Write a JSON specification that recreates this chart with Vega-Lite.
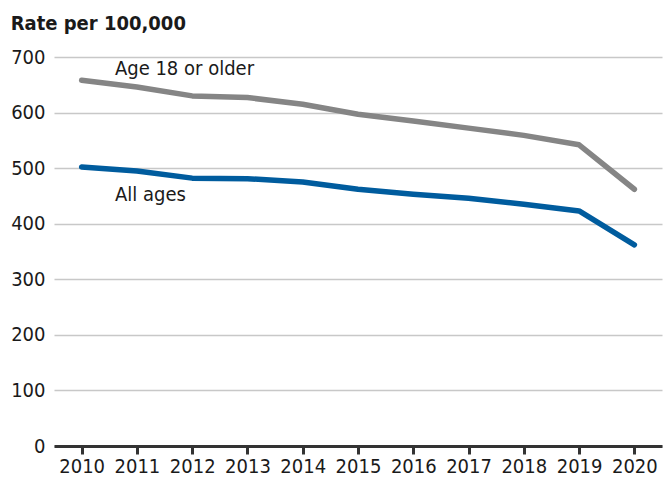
{
  "$schema": "https://vega.github.io/schema/vega-lite/v6.json",
  "width": 608,
  "height": 389,
  "autosize": {"type": "none"},
  "padding": {"left": 54, "top": 57, "right": 3, "bottom": 31},
  "background": "white",
  "title": {
    "text": "Rate per 100,000",
    "anchor": "start",
    "frame": "bounds",
    "font": "'DejaVu Sans Condensed', 'Liberation Sans Narrow', sans-serif",
    "fontSize": 20,
    "fontWeight": "bold",
    "color": "#1a1a1a",
    "offset": 13
  },
  "config": {
    "view": {"stroke": null},
    "font": "'DejaVu Sans Condensed', 'Liberation Sans Narrow', sans-serif"
  },
  "datasets": {
    "series": [
      {"year": "2010", "group": "Age 18 or older", "rate": 658},
      {"year": "2011", "group": "Age 18 or older", "rate": 646},
      {"year": "2012", "group": "Age 18 or older", "rate": 630},
      {"year": "2013", "group": "Age 18 or older", "rate": 627},
      {"year": "2014", "group": "Age 18 or older", "rate": 615},
      {"year": "2015", "group": "Age 18 or older", "rate": 597},
      {"year": "2016", "group": "Age 18 or older", "rate": 585},
      {"year": "2017", "group": "Age 18 or older", "rate": 572},
      {"year": "2018", "group": "Age 18 or older", "rate": 559},
      {"year": "2019", "group": "Age 18 or older", "rate": 542},
      {"year": "2020", "group": "Age 18 or older", "rate": 462},
      {"year": "2010", "group": "All ages", "rate": 502},
      {"year": "2011", "group": "All ages", "rate": 495},
      {"year": "2012", "group": "All ages", "rate": 482},
      {"year": "2013", "group": "All ages", "rate": 481},
      {"year": "2014", "group": "All ages", "rate": 475},
      {"year": "2015", "group": "All ages", "rate": 462},
      {"year": "2016", "group": "All ages", "rate": 453},
      {"year": "2017", "group": "All ages", "rate": 446},
      {"year": "2018", "group": "All ages", "rate": 435},
      {"year": "2019", "group": "All ages", "rate": 423},
      {"year": "2020", "group": "All ages", "rate": 362}
    ],
    "labels": [
      {"year": "2011", "rate": 678, "label": "Age 18 or older"},
      {"year": "2011", "rate": 452, "label": "All ages"}
    ]
  },
  "layer": [
    {
      "data": {"name": "series"},
      "mark": {"type": "line", "strokeWidth": 5.5, "strokeCap": "round", "strokeJoin": "round"},
      "encoding": {
        "x": {
          "field": "year",
          "type": "ordinal",
          "scale": {"type": "point", "padding": 0.5},
          "axis": {
            "title": null,
            "labelAngle": 0,
            "labelFontSize": 20,
            "labelColor": "#1a1a1a",
            "labelPadding": 2,
            "domainColor": "#333333",
            "domainWidth": 3,
            "tickColor": "#333333",
            "tickWidth": 3,
            "tickSize": 8,
            "grid": false
          }
        },
        "y": {
          "field": "rate",
          "type": "quantitative",
          "scale": {"domain": [0, 700], "nice": false},
          "axis": {
            "title": null,
            "values": [0, 100, 200, 300, 400, 500, 600, 700],
            "labelFontSize": 20,
            "labelColor": "#1a1a1a",
            "labelPadding": 9,
            "domain": false,
            "ticks": false,
            "gridColor": "#c8c8c8",
            "gridWidth": 1.5
          }
        },
        "color": {
          "field": "group",
          "type": "nominal",
          "scale": {"domain": ["Age 18 or older", "All ages"], "range": ["#858585", "#005c9e"]},
          "legend": null
        }
      }
    },
    {
      "data": {"name": "labels"},
      "mark": {"type": "text", "align": "left", "baseline": "middle", "dx": -22, "fontSize": 20, "color": "#1a1a1a"},
      "encoding": {
        "x": {"field": "year", "type": "ordinal"},
        "y": {"field": "rate", "type": "quantitative"},
        "text": {"field": "label"}
      }
    }
  ]
}
